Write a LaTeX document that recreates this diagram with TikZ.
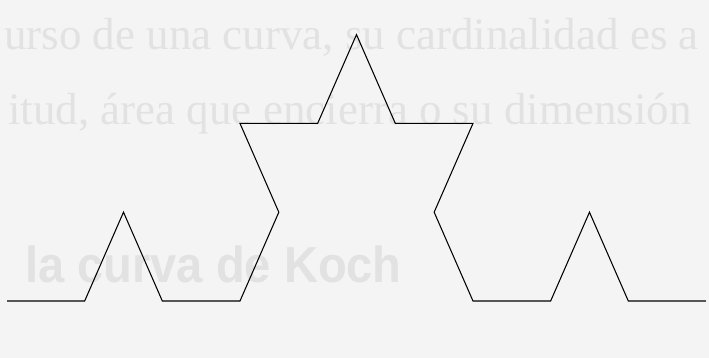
\documentclass[tikz,border=0pt]{standalone}
\usepackage{fontspec}
\setmainfont{Liberation Serif}
\newfontfamily\headfont{Liberation Sans}
\definecolor{paper}{RGB}{244,244,244}
\definecolor{ghost}{RGB}{226,226,226}

\begin{document}
\begin{tikzpicture}[
		kochline/.style={draw=black, line width=0.75pt, line join=miter},
		ghosttext/.style={text=ghost, anchor=base west, inner sep=0pt},
		bodyfont/.style={font=\fontsize{32}{36}\selectfont},
		titlefont/.style={font=\headfont\bfseries\fontsize{36}{40}\selectfont, xscale=0.93, transform shape}
		]
		
		% paper and page size
		\fill[paper] (0,0) rectangle (17.725,8.95);
		\useasboundingbox (0,0) rectangle (17.725,8.95);
		
		% faint text showing through from the other side of the page
		\begin{scope}
			\clip (0,0) rectangle (17.725,8.95);
			\node[ghosttext, bodyfont] (lineone) at (0.1,7.72) {urso de una curva, su cardinalidad es a};
			\node[ghosttext, bodyfont] (linetwo) at (0.2,5.83) {itud, área que encierra o su dimensión};
			\node[ghosttext, titlefont] (title) at (0.62,1.88) {la curva de Koch};
		\end{scope}
		
		% Koch curve, second step
		\begin{scope}[shift={(0.175,1.425)}, x=0.9708cm, y=2.22cm]
			\draw[kochline] (0,0) -- (2,0) -- (3,1) -- (4,0) -- (6,0)
			-- (7,1) -- (6,2) -- (8,2) -- (9,3)
			-- (10,2) -- (12,2) -- (11,1) -- (12,0)
			-- (14,0) -- (15,1) -- (16,0) -- (18,0);
		\end{scope}
		
	\end{tikzpicture}
\end{document}
